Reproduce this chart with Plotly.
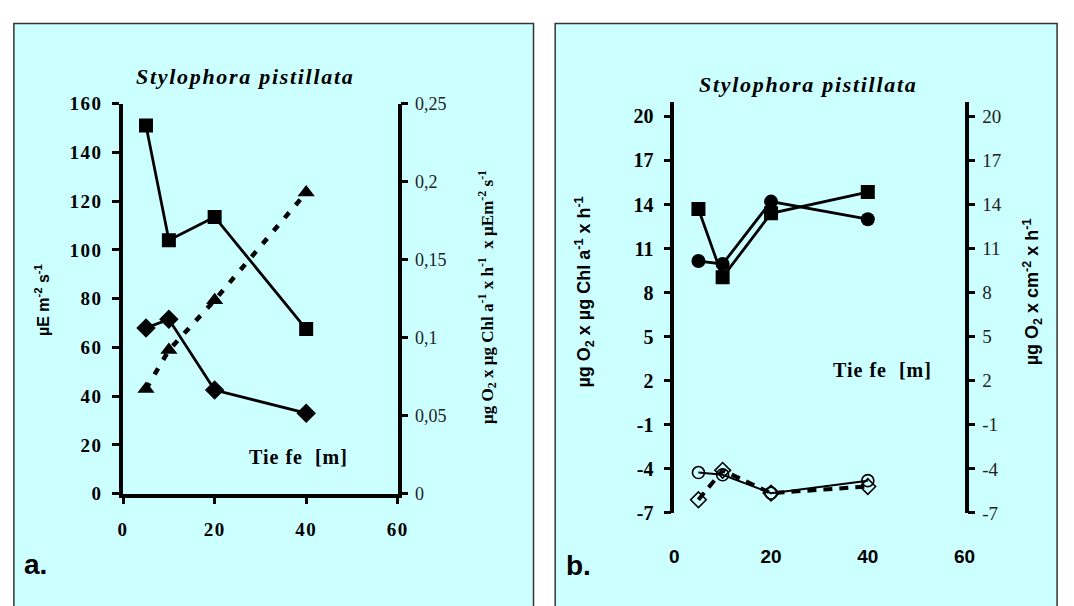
import plotly.graph_objects as go

# ---------------- data ----------------
depth = [5, 10, 20, 40]

# panel a
irradiance_sq = [151, 104, 113.5, 67.5]          # squares, left axis (µE m-2 s-1)
ik_diamond = [68, 71.5, 42.5, 33]                # diamonds, left axis
alpha_tri = [0.067, 0.092, 0.124, 0.193]         # triangles, right axis

# panel b
pmax_sq = [13.7, 9.05, 13.4, 14.85]              # filled squares
pmax_circ = [10.15, 9.95, 14.2, 13.0]            # filled circles
resp_circ = [-4.25, -4.4, -5.65, -4.8]           # open circles
resp_diam = [-6.1, -4.1, -5.65, -5.2]            # open diamonds

x_ticks = [0, 20, 40, 60]
a_left_ticks = [0, 20, 40, 60, 80, 100, 120, 140, 160]
a_right_ticks = [0, 0.05, 0.1, 0.15, 0.2, 0.25]
a_right_text = ["0", "0,05", "0,1", "0,15", "0,2", "0,25"]
b_ticks = [-7, -4, -1, 2, 5, 8, 11, 14, 17, 20]
b_ticktext = [str(v) for v in b_ticks]

# ---------------- layout helpers ----------------
W, H = 1074, 606
def px(x):
    return x / W
def py(y):
    return 1 - y / H

BG = "#CCFFFF"
SERIF = "Liberation Serif"
SANS = "Liberation Sans"
BLACK = "black"

def spaced(t, sp=1.5):
    return '<span style="letter-spacing:%spx">%s</span>' % (sp, t)

fig = go.Figure()

# ---- panel a traces ----
fig.add_trace(go.Scatter(x=depth, y=irradiance_sq, mode="lines+markers",
                         line=dict(color=BLACK, width=2.8),
                         marker=dict(symbol="square", size=14, color=BLACK),
                         xaxis="x", yaxis="y", showlegend=False))
fig.add_trace(go.Scatter(x=depth, y=ik_diamond, mode="lines+markers",
                         line=dict(color=BLACK, width=2.8),
                         marker=dict(symbol="diamond", size=15, color=BLACK),
                         xaxis="x", yaxis="y", showlegend=False))
fig.add_trace(go.Scatter(x=depth, y=alpha_tri, mode="lines+markers",
                         line=dict(color=BLACK, width=4.5, dash="7px,10px"),
                         marker=dict(symbol="triangle-up", size=15, color=BLACK),
                         xaxis="x", yaxis="y2", showlegend=False))

# ---- panel b traces ----
fig.add_trace(go.Scatter(x=depth, y=pmax_sq, mode="lines+markers",
                         line=dict(color=BLACK, width=2.8),
                         marker=dict(symbol="square", size=14, color=BLACK),
                         xaxis="x2", yaxis="y3", showlegend=False))
fig.add_trace(go.Scatter(x=depth, y=pmax_circ, mode="lines+markers",
                         line=dict(color=BLACK, width=2.8),
                         marker=dict(symbol="circle", size=14, color=BLACK),
                         xaxis="x2", yaxis="y3", showlegend=False))
fig.add_trace(go.Scatter(x=depth, y=resp_diam, mode="lines+markers",
                         line=dict(color=BLACK, width=4, dash="9px,7px"),
                         marker=dict(symbol="diamond-open", size=12, color=BLACK,
                                     line=dict(width=1.6, color=BLACK)),
                         xaxis="x2", yaxis="y4", showlegend=False))
fig.add_trace(go.Scatter(x=depth, y=resp_circ, mode="lines+markers",
                         line=dict(color=BLACK, width=2, dash="solid"),
                         marker=dict(symbol="circle-open", size=12, color=BLACK,
                                     line=dict(width=1.6, color=BLACK)),
                         xaxis="x2", yaxis="y4", showlegend=False))

# ---- axes ----
common_line = dict(showline=True, linecolor=BLACK, linewidth=3.5, ticks="outside",
                   tickcolor=BLACK, tickwidth=3, ticklen=7, showgrid=False, zeroline=False)

ya_dom = [py(501), py(97)]
yb_dom = [py(521), py(95)]
xa_dom = [px(119), px(398)]
xb_dom = [px(679), px(974)]
zero_pos = py(414)

fig.update_layout(
    width=W, height=H,
    margin=dict(l=0, r=0, t=0, b=0),
    paper_bgcolor="white", plot_bgcolor="rgba(0,0,0,0)",
    xaxis=dict(domain=xa_dom, range=[0, 60], tickvals=x_ticks, anchor="y",
               ticktext=[spaced(str(v), 1.5) for v in x_ticks],
               tickfont=dict(family=SERIF, size=19, color=BLACK, weight="bold"),
               ticklabelstandoff=9, **common_line),
    yaxis=dict(domain=ya_dom, range=[0, 160], tickvals=a_left_ticks, anchor="x",
               ticktext=[spaced(str(v), 1.5) for v in a_left_ticks],
               tickfont=dict(family=SERIF, size=19, color=BLACK, weight="bold"),
               ticklabelstandoff=6, **common_line),
    yaxis2=dict(overlaying="y", side="right", range=[0, 0.25], tickvals=a_right_ticks,
                ticktext=a_right_text, anchor="x",
                tickfont=dict(family=SERIF, size=18, color="#222"),
                ticklabelstandoff=3, **common_line),
    xaxis2=dict(domain=xb_dom, range=[0, 60], tickvals=x_ticks, anchor="y3",
                showline=False, showgrid=False, zeroline=False, ticks="outside",
                ticklen=26, tickcolor="rgba(0,0,0,0)",
                tickfont=dict(family=SANS, size=19, color=BLACK, weight="bold")),
    xaxis3=dict(overlaying="x2", anchor="free", position=zero_pos, range=[0, 60],
                tickvals=[0, 20, 40, 60], showticklabels=False,
                showline=True, linecolor=BLACK, linewidth=3, ticks="outside",
                tickcolor=BLACK, tickwidth=3, ticklen=7, showgrid=False, zeroline=False),
    yaxis3=dict(domain=yb_dom, range=[-7, 21], tickvals=b_ticks, ticktext=b_ticktext,
                anchor="x2",
                tickfont=dict(family=SERIF, size=20, color=BLACK, weight="bold"),
                ticklabelstandoff=6, **common_line),
    yaxis4=dict(overlaying="y3", side="right", range=[-7, 21], tickvals=b_ticks,
                ticktext=b_ticktext, anchor="x2",
                tickfont=dict(family=SERIF, size=19, color="#222"),
                ticklabelstandoff=3, **common_line),
)

# ---- panel backgrounds and frames ----
fig.add_shape(type="rect", xref="paper", yref="paper",
              x0=px(8), x1=px(536), y0=py(640), y1=py(14),
              fillcolor=BG, line=dict(color="#333", width=1.5), layer="below")
fig.add_shape(type="rect", xref="paper", yref="paper",
              x0=px(558), x1=px(1068), y0=py(640), y1=py(14),
              fillcolor=BG, line=dict(color="#333", width=1.5), layer="below")

# ---- annotations ----
def ann(text, x, y, size, family, bold=False, italic=False, angle=0, xanchor="center", color=BLACK):
    fig.add_annotation(text=text, x=px(x), y=py(y), xref="paper", yref="paper",
                       showarrow=False, textangle=angle, xanchor=xanchor, yanchor="middle",
                       font=dict(family=family, size=size, color=color,
                                 weight="bold" if bold else "normal",
                                 style="italic" if italic else "normal"))

ann(spaced("Stylophora pistillata", 1.7), 243, 69, 22, SERIF, bold=True, italic=True)
ann(spaced("Stylophora pistillata", 1.7), 815, 77, 22, SERIF, bold=True, italic=True)
ann(spaced("Tie fe  [m]", 1), 297, 463, 20, SERIF, bold=True)
ann(spaced("Tie fe  [m]", 1), 891, 373, 20, SERIF, bold=True)
ann("a.", 30, 574, 28, SANS, bold=True)
ann("b.", 582, 575, 28, SANS, bold=True)
ann("µE m<sup>-2</sup> s<sup>-1</sup>", 36, 300, 16, SANS, bold=True, angle=-90)
ann("µg O<sub>2</sub> x µg Chl a<sup>-1</sup> x h<sup>-1</sup>  x µEm<sup>-2</sup> s<sup>-1</sup>",
    489, 297, 17, SERIF, bold=True, angle=-90)
ann("µg O<sub>2</sub> x µg Chl a<sup>-1</sup> x h<sup>-1</sup>", 588, 292, 18, SANS, bold=True, angle=-90)
ann("µg O<sub>2</sub> x cm<sup>-2</sup> x h<sup>-1</sup>", 1043, 292, 18, SANS, bold=True, angle=-90)

fig.write_html("out.html", config={"displayModeBar": False},
               post_script="document.body.style.margin='0px';document.body.style.overflow='hidden';")
